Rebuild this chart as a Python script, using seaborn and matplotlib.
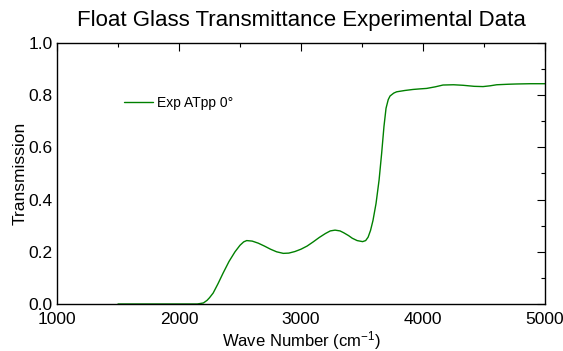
import matplotlib
matplotlib.use("Agg")
import matplotlib.pyplot as plt
import seaborn as sns
import pandas as pd
from matplotlib.ticker import MultipleLocator

wave_number = [1500, 2000, 2150, 2200, 2230, 2250, 2280, 2320, 2361, 2410, 2459, 2500, 2530,
               2555, 2600, 2650, 2700, 2750, 2800, 2855, 2900, 2950, 3000, 3050, 3100, 3150,
               3200, 3240, 3279, 3320, 3350, 3390, 3420, 3460, 3505, 3530, 3550, 3570, 3590,
               3615, 3640, 3661, 3680, 3697, 3715, 3730, 3760, 3784, 3850, 3918, 3970, 4030,
               4100, 4164, 4250, 4328, 4420, 4492, 4550, 4604, 4700, 4768, 4880, 4984, 5000]
transmission = [0.0, 0.0, 0.0, 0.004, 0.014, 0.024, 0.042, 0.078, 0.118, 0.163, 0.200, 0.225,
                0.238, 0.243, 0.241, 0.233, 0.222, 0.210, 0.200, 0.194, 0.195, 0.201, 0.210,
                0.222, 0.238, 0.255, 0.270, 0.280, 0.283, 0.280, 0.273, 0.262, 0.252, 0.243,
                0.239, 0.243, 0.256, 0.282, 0.320, 0.385, 0.475, 0.577, 0.680, 0.750, 0.783,
                0.797, 0.808, 0.813, 0.818, 0.822, 0.824, 0.826, 0.832, 0.839, 0.840, 0.838,
                0.834, 0.833, 0.836, 0.840, 0.842, 0.843, 0.844, 0.844, 0.844]
series_name = "Exp ATpp 0°"

sns.set_theme(style="white")
plt.rcParams['font.family'] = ['Liberation Sans', 'DejaVu Sans']
plt.rcParams['mathtext.fontset'] = 'custom'
plt.rcParams['mathtext.rm'] = 'Liberation Sans'
plt.rcParams['mathtext.it'] = 'Liberation Sans'
plt.rcParams['text.color'] = 'black'
plt.rcParams['axes.labelcolor'] = 'black'

df = pd.DataFrame({"x": wave_number, "y": transmission, "s": series_name})

fig = plt.figure(figsize=(5.63, 3.51), dpi=100)
ax = fig.add_axes([57/563, 1 - 304/351, (545-57)/563, (304-43)/351])
sns.lineplot(data=df, x="x", y="y", hue="s", palette=["#008000"], linewidth=1.0, ax=ax)

ax.set_xlim(1000, 5000)
ax.set_ylim(0, 1.0)
ax.xaxis.set_major_locator(MultipleLocator(1000))
ax.xaxis.set_minor_locator(MultipleLocator(500))
ax.yaxis.set_major_locator(MultipleLocator(0.2))
ax.yaxis.set_minor_locator(MultipleLocator(0.1))
ax.yaxis.set_major_formatter(matplotlib.ticker.FormatStrFormatter('%.1f'))
ax.tick_params(which='both', direction='in', top=True, right=True, colors='black',
               labelsize=12.5, width=0.8)
ax.tick_params(which='major', length=5.8)
ax.tick_params(which='minor', length=3)
ax.tick_params(axis='x', which='both', pad=6)
ax.tick_params(axis='y', which='both', pad=3)
for sp in ax.spines.values():
    sp.set_color('black')
    sp.set_linewidth(1.0)

ax.set_xlabel("Wave Number (cm$^{-1}$)", fontsize=12, labelpad=1, color='black')
ax.set_ylabel("Transmission", fontsize=12.5, labelpad=1, color='black')
ax.set_title("Float Glass Transmittance Experimental Data", fontsize=16, pad=12, color='black')

leg = ax.legend(loc='center left', bbox_to_anchor=((124-57)/488, (304-103)/261), frameon=False,
                fontsize=10, handlelength=2.1, handletextpad=0.3, borderpad=0, borderaxespad=0)
for t in leg.get_texts():
    t.set_color('black')

fig.savefig("out.png", dpi=100)
